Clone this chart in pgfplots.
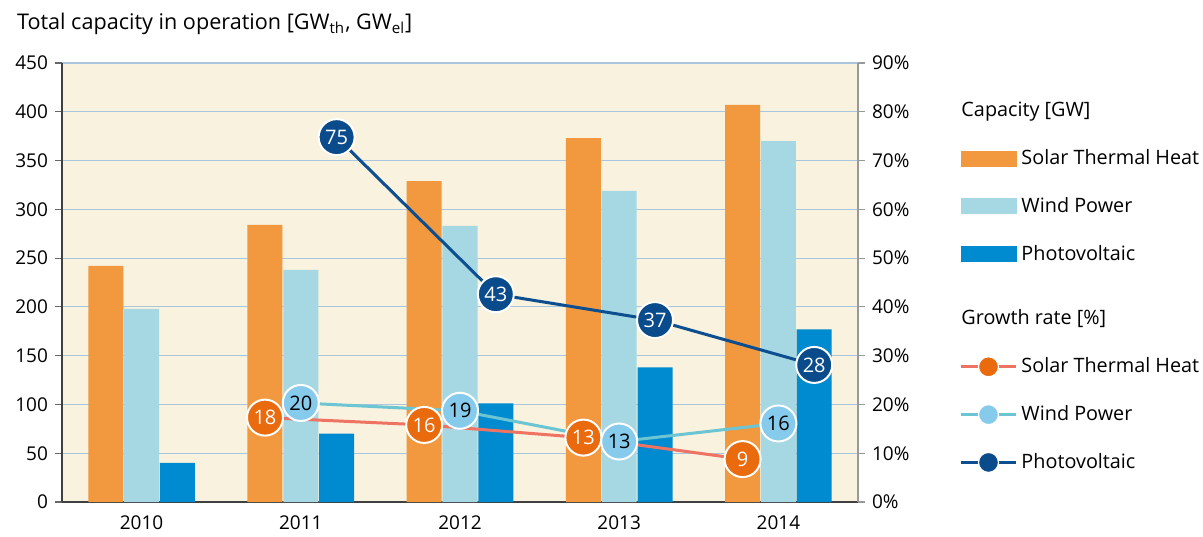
\documentclass[border=0pt]{standalone}
\usepackage{fontspec}
\setmainfont{Open Sans}
\usepackage{pgfplots}
\pgfplotsset{compat=1.18}

\definecolor{bgcream}{HTML}{F8F2DE}
\definecolor{gridblue}{HTML}{A9C6DE}
\definecolor{barorange}{HTML}{F2993F}
\definecolor{barwind}{HTML}{A6D8E3}
\definecolor{barpv}{HTML}{008AD0}
\definecolor{lineST}{HTML}{EE7362}
\definecolor{markST}{HTML}{EA6A0E}
\definecolor{lineWind}{HTML}{6CC5D2}
\definecolor{markWind}{HTML}{86CBEC}
\definecolor{linePV}{HTML}{0C4E8F}
\definecolor{markPV}{HTML}{0A4B8C}

% capacity in GW
\pgfplotstableread{
x st wind pv
0 242 198 40
1 284 238 70
2 329 283 101
3 373 319 138
4 407 370 177
}\capacity

% growth rate in %, x at the bar it belongs to
\pgfplotstableread{
x y lab
0.775 17.3 18
1.775 15.8 16
2.775 13.2 13
3.775 8.8 9
}\growthST
\pgfplotstableread{
x y lab
1 20.3 20
2 18.7 19
3 12.4 13
4 16.1 16
}\growthWind
\pgfplotstableread{
x y lab
1.225 74.8 75
2.225 42.6 43
3.225 37.3 37
4.225 28.1 28
}\growthPV

\pgfplotsset{
  base/.style={
    scale only axis, width=398pt, height=219.5pt,
    xmin=-0.5, xmax=4.5,
    tick align=outside,
    major tick length=3.5pt,
    tick label style={font=\fontsize{9.5}{11}\selectfont},
    /pgf/number format/assume math mode=true,
  },
  growth/.style={
    line width=1.5pt, mark=none,
    point meta=explicit symbolic,
    nodes near coords,
    nodes near coords align={center},
    every node near coord/.style={circle, draw=white, line width=1pt,
      minimum size=18pt, inner sep=0pt, anchor=center,
      font=\fontsize{10}{12}\selectfont},
  },
}

\begin{document}
\begin{tikzpicture}
\useasboundingbox (-31pt,-17pt) rectangle (570.5pt,251pt);

\begin{axis}[base,
  ymin=0, ymax=450, ytick={0,50,...,450},
  axis x line*=bottom, axis y line*=left,
  axis line style={draw=black!75, line width=0.6pt},
  axis background/.style={fill=bgcream},
  ymajorgrids, grid style={gridblue, line width=0.6pt},
  xtick={0,...,4}, xticklabels={2010,2011,2012,2013,2014},
  xtick style={draw=none},
  extra x ticks={-0.5,0.5,...,4.5}, extra x tick labels={},
  extra x tick style={grid=none, tick style={draw=black!75, line width=0.6pt}},
  ytick style={draw=black!60, line width=0.6pt},
]
\addplot[ybar, bar width=0.22, bar shift=-0.225, fill=barorange, draw=none] table[x=x, y=st] {\capacity};
\addplot[ybar, bar width=0.22, bar shift=0, fill=barwind, draw=none] table[x=x, y=wind] {\capacity};
\addplot[ybar, bar width=0.22, bar shift=0.225, fill=barpv, draw=none] table[x=x, y=pv] {\capacity};
\end{axis}

\begin{axis}[base,
  ymin=0, ymax=90, ytick={0,10,...,90},
  yticklabel={\pgfmathprintnumber{\tick}\%},
  axis y line*=right, axis x line=none,
  axis line style={draw=black!40, line width=0.6pt},
  ytick style={draw=black!40, line width=0.6pt},
  legend style={at={(1.127,0.921)}, anchor=north west, draw=none, fill=none,
    inner sep=0pt, row sep=10.9pt, column sep=0pt,
    font=\fontsize{9.9}{11.5}\selectfont},
  legend cell align=left,
]
\addlegendimage{legend image code/.code={}}
\addlegendentry{\hspace*{-30pt}Capacity [GW]}
\addlegendimage{legend image code/.code={\fill[barorange] (0pt,-3.75pt) rectangle (27.5pt,3.75pt);}}
\addlegendentry{Solar Thermal Heat}
\addlegendimage{legend image code/.code={\fill[barwind] (0pt,-3.75pt) rectangle (27.5pt,3.75pt);}}
\addlegendentry{Wind Power}
\addlegendimage{legend image code/.code={\fill[barpv] (0pt,-3.75pt) rectangle (27.5pt,3.75pt);}}
\addlegendentry{Photovoltaic}
\addlegendimage{legend image code/.code={}}
\addlegendentry{\rule{0pt}{16pt}\hspace*{-30pt}Growth rate [\%]}

\addplot[growth, lineST, every node near coord/.append style={fill=markST, text=white},
  forget plot] table[x=x, y=y, meta=lab] {\growthST};
\addplot[growth, lineWind, every node near coord/.append style={fill=markWind, text=black},
  forget plot] table[x=x, y=y, meta=lab] {\growthWind};
\addplot[growth, linePV, every node near coord/.append style={fill=markPV, text=white},
  forget plot] table[x=x, y=y, meta=lab] {\growthPV};

\addlegendimage{legend image code/.code={\draw[lineST, line width=1.5pt] (0pt,0pt) -- (27.5pt,0pt);
  \fill[markST, draw=white, line width=0.6pt] (13.75pt,0pt) circle (5pt);}}
\addlegendentry{Solar Thermal Heat}
\addlegendimage{legend image code/.code={\draw[lineWind, line width=1.5pt] (0pt,0pt) -- (27.5pt,0pt);
  \fill[markWind, draw=white, line width=0.6pt] (13.75pt,0pt) circle (5pt);}}
\addlegendentry{Wind Power}
\addlegendimage{legend image code/.code={\draw[linePV, line width=1.5pt] (0pt,0pt) -- (27.5pt,0pt);
  \fill[markPV, draw=white, line width=0.6pt] (13.75pt,0pt) circle (5pt);}}
\addlegendentry{Photovoltaic}
\end{axis}

\node[anchor=base west, font=\fontsize{10.8}{12.5}\selectfont] at (-26pt,236pt)
  {Total capacity in operation [GW\textsubscript{th}, GW\textsubscript{el}]};
\end{tikzpicture}
\end{document}
